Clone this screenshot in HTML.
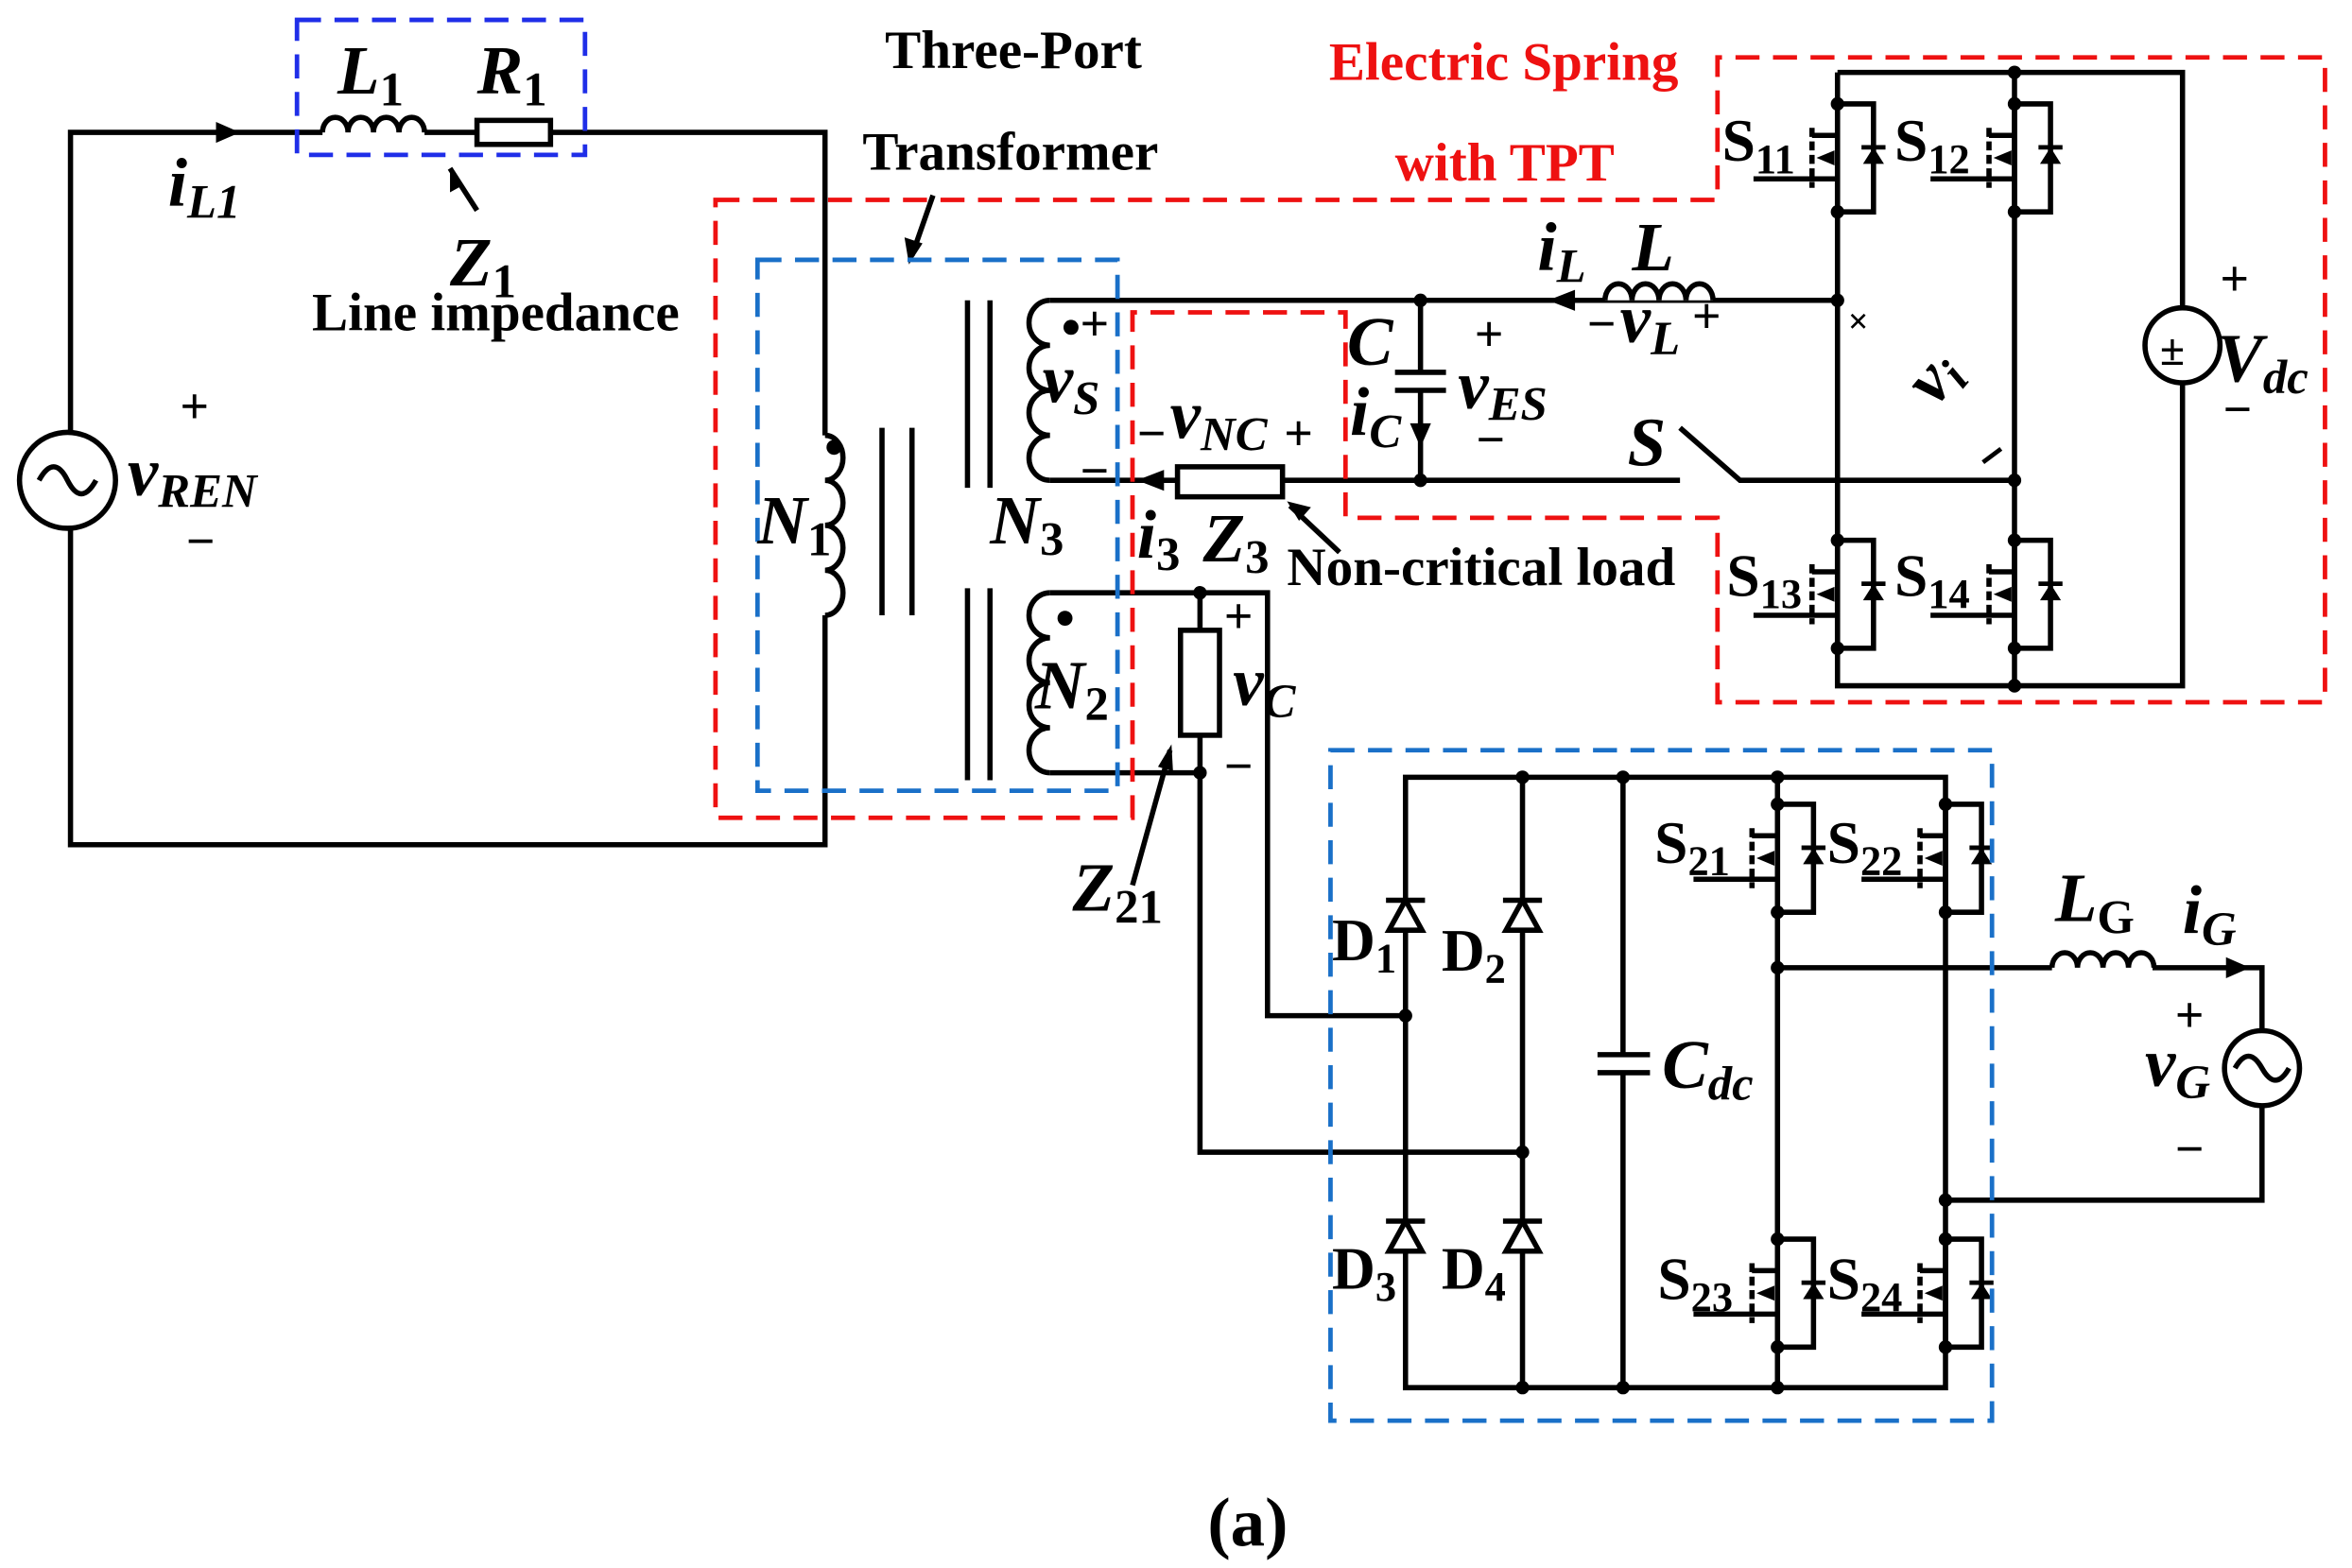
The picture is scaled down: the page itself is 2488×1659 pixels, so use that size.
<!DOCTYPE html>
<html><head><meta charset="utf-8"><style>
html,body{margin:0;padding:0;background:#fff;}
svg{display:block;}
text{font-family:"Liberation Serif",serif;font-weight:bold;fill:#000;}
.i{font-style:italic;}
</style></head><body>
<svg width="2488" height="1659" viewBox="0 0 1568 1045" xmlns="http://www.w3.org/2000/svg">
<defs>
<g id="mos">
 <path d="M0,-36 V36 M0,-36 H24 V36 H0 M0,-15 H-17 M0,14 H-17 M-56,14 H-17" stroke="#000" stroke-width="3.5" fill="none"/>
 <line x1="-17" y1="-20" x2="-17" y2="20" stroke="#000" stroke-width="3.5" stroke-dasharray="6,3"/>
 <polygon points="-14,0 -2,-5 -2,5" fill="#000"/>
 <polygon points="17,4 31,4 24,-7" fill="#000"/><line x1="16" y1="-7" x2="32" y2="-7" stroke="#000" stroke-width="3"/>
 <circle cx="0" cy="-36" r="4.5" fill="#000"/><circle cx="0" cy="36" r="4.5" fill="#000"/>
</g>
<g id="dio">
 <polygon points="-11,12 11,12 0,-8" fill="#fff" stroke="#000" stroke-width="3.5"/>
 <line x1="-13" y1="-8" x2="13" y2="-8" stroke="#000" stroke-width="3.5"/>
</g>
</defs>
<g stroke="#000" stroke-width="3.5" fill="none">
 <path d="M47,288 V88 H215 M283,88 H318 M367,88 H550 V290 M550,410 V563 H47 V352"/>
 <path d="M215,88 a8.5,10 0 0 1 17,0 a8.5,10 0 0 1 17,0 a8.5,10 0 0 1 17,0 a8.5,10 0 0 1 17,0"/>
 <rect x="318" y="80" width="49" height="16" fill="#fff"/>
 <circle cx="45" cy="320" r="32"/>
 <path d="M26,320 q10,-18 19,0 t19,0"/>
 <path d="M550,290 a12,15 0 0 1 0,30 a12,15 0 0 1 0,30 a12,15 0 0 1 0,30 a12,15 0 0 1 0,30"/>
 <path d="M588,285 V410 M608,285 V410 M645,200 V325 M660,200 V325 M645,392 V520 M660,392 V520"/>
 <path d="M700,200 a14,15 0 0 0 0,30 a14,15 0 0 0 0,30 a14,15 0 0 0 0,30 a14,15 0 0 0 0,30"/>
 <path d="M700,200 H1225 M700,320 H1120 M1120,285 L1160,320 H1343"/>
 <path d="M700,395 a14,15 0 0 0 0,30 a14,15 0 0 0 0,30 a14,15 0 0 0 0,30 a14,15 0 0 0 0,30"/>
 <path d="M700,395 H845 V677 H937 M700,515 H800 V768 H1015 M800,395 V420 M800,490 V515"/>
 <rect x="787" y="420" width="26" height="70" fill="#fff"/>
 <rect x="785" y="311" width="70" height="20" fill="#fff"/>
 <path d="M947,200 V248 M947,260 V320 M930,248 H964 M930,260 H964"/>
 <path d="M1070,200 a9,11 0 0 1 18,0 a9,11 0 0 1 18,0 a9,11 0 0 1 18,0 a9,11 0 0 1 18,0" fill="#fff"/>
 <path d="M1225,48 H1455 V205 M1455,255 V457 H1225 V48 M1343,48 V457"/>
 <circle cx="1455" cy="230" r="25" fill="#fff"/>
 <path d="M937,518 H1297 V925 H937 Z M1015,518 V925 M1082,518 V703 M1082,715 V925 M1185,518 V925 M1065,703 H1100 M1065,715 H1100"/>
 <path d="M1185,645 H1368 M1435,645 H1508 V687 M1508,737 V800 H1297"/>
 <path d="M1368,645 a8.5,10 0 0 1 17,0 a8.5,10 0 0 1 17,0 a8.5,10 0 0 1 17,0 a8.5,10 0 0 1 17,0"/>
 <circle cx="1508" cy="712" r="25" fill="#fff"/>
 <path d="M1490,712 q9,-16 18,0 t18,0"/>
 <path d="M300,112 L318,140 M608,170 L622,130 M893,368 L860,337 M755,590 L780,500"/>
</g>
<g fill="#000">
 <polygon points="160,88 144,81 144,95"/>
 <polygon points="1032,200 1050,193 1050,207"/>
 <polygon points="758,320 776,313 776,327"/>
 <polygon points="947,298 940,282 954,282"/>
 <polygon points="1500,645 1484,638 1484,652"/>
 <polygon points="300,112 300,128 309,123"/>
 <polygon points="606,176 603,158 615,162"/>
 <polygon points="858,334 874,338 866,347"/>
 <polygon points="781,496 782,514 772,511"/>
 <circle cx="714" cy="218" r="5"/><circle cx="710" cy="412" r="5"/><circle cx="556" cy="298" r="5"/>
 <circle cx="947" cy="200" r="4.5"/><circle cx="947" cy="320" r="4.5"/><circle cx="1225" cy="200" r="4.5"/><circle cx="1343" cy="320" r="4.5"/><circle cx="1343" cy="48" r="4.5"/><circle cx="1343" cy="457" r="4.5"/>
 <circle cx="800" cy="395" r="4.5"/><circle cx="800" cy="515" r="4.5"/>
 <circle cx="937" cy="677" r="4.5"/><circle cx="1015" cy="768" r="4.5"/><circle cx="1015" cy="518" r="4.5"/><circle cx="1082" cy="518" r="4.5"/><circle cx="1185" cy="518" r="4.5"/>
 <circle cx="1015" cy="925" r="4.5"/><circle cx="1082" cy="925" r="4.5"/><circle cx="1185" cy="925" r="4.5"/><circle cx="1185" cy="645" r="4.5"/><circle cx="1297" cy="800" r="4.5"/>
</g>
<use href="#mos" x="1225" y="105"/><use href="#mos" x="1343" y="105"/>
<use href="#mos" x="1225" y="396"/><use href="#mos" x="1343" y="396"/>
<use href="#mos" x="1185" y="572"/><use href="#mos" x="1297" y="572"/>
<use href="#mos" x="1185" y="862"/><use href="#mos" x="1297" y="862"/>
<use href="#dio" x="937" y="608"/><use href="#dio" x="1015" y="608"/>
<use href="#dio" x="937" y="822"/><use href="#dio" x="1015" y="822"/>
<g fill="none" stroke-width="3" stroke-dasharray="16,9">
 <rect x="198" y="13" width="192" height="90" stroke="#1f2ee8"/>
 <path d="M477,133 H1145 V38 H1550 V468 H1145 V345 H897 V208 H755 V545 H477 Z" stroke="#ee1111"/>
 <rect x="505" y="173" width="240" height="354" stroke="#1a70c8"/>
 <rect x="887" y="500" width="441" height="447" stroke="#1a70c8"/>
</g>
<g font-size="36">
 <text x="590" y="45">Three-Port</text>
 <text x="575" y="113">Transformer</text>
 <text x="208" y="220">Line impedance</text>
 <text x="858" y="390">Non-critical load</text>
 <text x="886" y="53" style="fill:#ee1111">Electric Spring</text>
 <text x="930" y="120" style="fill:#ee1111">with TPT</text>
</g>
<g font-size="46">
 <text x="225" y="62" class="i">L<tspan font-size="32" font-style="normal" dy="8">1</tspan></text>
 <text x="318" y="62" class="i">R<tspan font-size="32" font-style="normal" dy="8">1</tspan></text>
 <text x="112" y="137" class="i">i<tspan font-size="32" dy="8">L1</tspan></text>
 <text x="300" y="190" class="i">Z<tspan font-size="32" font-style="normal" dy="8">1</tspan></text>
 <text x="85" y="330" class="i">v<tspan font-size="32" dy="8">REN</tspan></text>
 <text x="505" y="362" class="i">N<tspan font-size="32" font-style="normal" dy="8">1</tspan></text>
 <text x="660" y="362" class="i">N<tspan font-size="32" font-style="normal" dy="8">3</tspan></text>
 <text x="690" y="472" class="i">N<tspan font-size="32" font-style="normal" dy="8">2</tspan></text>
 <text x="695" y="268" class="i">v<tspan font-size="32" dy="8">S</tspan></text>
 <text x="780" y="292" class="i">v<tspan font-size="32" dy="8">NC</tspan></text>
 <text x="758" y="372" class="i">i<tspan font-size="32" font-style="normal" dy="8">3</tspan></text>
 <text x="802" y="374" class="i">Z<tspan font-size="32" font-style="normal" dy="8">3</tspan></text>
 <text x="898" y="243" class="i">C</text>
 <text x="900" y="290" class="i">i<tspan font-size="32" dy="8">C</tspan></text>
 <text x="972" y="272" class="i">v<tspan font-size="32" dy="8">ES</tspan></text>
 <text x="1025" y="180" class="i">i<tspan font-size="32" dy="8">L</tspan></text>
 <text x="1088" y="180" class="i">L</text>
 <text x="1080" y="228" class="i">v<tspan font-size="32" dy="8">L</tspan></text>
 <text x="1085" y="310" class="i">S</text>
 <text x="1272" y="268" class="i" transform="rotate(-50 1285 250)">v<tspan font-size="32" dy="6">i</tspan></text>
 <text x="1478" y="254" class="i">V<tspan font-size="32" dy="8">dc</tspan></text>
 <text x="822" y="470" class="i">v<tspan font-size="32" dy="8">C</tspan></text>
 <text x="715" y="607" class="i">Z<tspan font-size="32" font-style="normal" dy="8">21</tspan></text>
 <text x="1108" y="725" class="i">C<tspan font-size="32" dy="8">dc</tspan></text>
 <text x="1370" y="614" class="i">L<tspan font-size="32" font-style="normal" dy="8">G</tspan></text>
 <text x="1455" y="622" class="i">i<tspan font-size="32" dy="8">G</tspan></text>
 <text x="1430" y="724" class="i">v<tspan font-size="32" dy="8">G</tspan></text>
 <text x="805" y="1030" font-weight="normal">(<tspan font-weight="bold">a</tspan>)</text>
</g>
<g font-size="40">
 <text x="1148" y="107">S<tspan font-size="28" dy="8">11</tspan></text>
 <text x="1263" y="107">S<tspan font-size="28" dy="8">12</tspan></text>
 <text x="1151" y="397">S<tspan font-size="28" dy="8">13</tspan></text>
 <text x="1263" y="397">S<tspan font-size="28" dy="8">14</tspan></text>
 <text x="1103" y="575">S<tspan font-size="28" dy="8">21</tspan></text>
 <text x="1218" y="575">S<tspan font-size="28" dy="8">22</tspan></text>
 <text x="1105" y="866">S<tspan font-size="28" dy="8">23</tspan></text>
 <text x="1218" y="866">S<tspan font-size="28" dy="8">24</tspan></text>
 <text x="888" y="640">D<tspan font-size="28" dy="8">1</tspan></text>
 <text x="961" y="647">D<tspan font-size="28" dy="8">2</tspan></text>
 <text x="888" y="859">D<tspan font-size="28" dy="8">3</tspan></text>
 <text x="961" y="859">D<tspan font-size="28" dy="8">4</tspan></text>
</g>
<g font-size="34">
 <text x="120" y="282">+</text><text x="124" y="372">−</text>
 <text x="720" y="227">+</text><text x="720" y="325">−</text>
 <text x="758" y="300">−</text><text x="856" y="300">+</text>
 <text x="983" y="234">+</text><text x="984" y="304">−</text>
 <text x="1058" y="227">−</text><text x="1128" y="222">+</text>
 <text x="1480" y="197">+</text><text x="1482" y="284">−</text>
 <text x="1440" y="243" font-size="30">±</text>
 <text x="816" y="422">+</text><text x="816" y="522">−</text>
 <text x="1450" y="688">+</text><text x="1450" y="777">−</text>
 <text x="1232" y="222" font-size="24">×</text>
</g>
<line x1="1322" y1="308" x2="1334" y2="299" stroke="#000" stroke-width="3"/>
</svg>
</body></html>
